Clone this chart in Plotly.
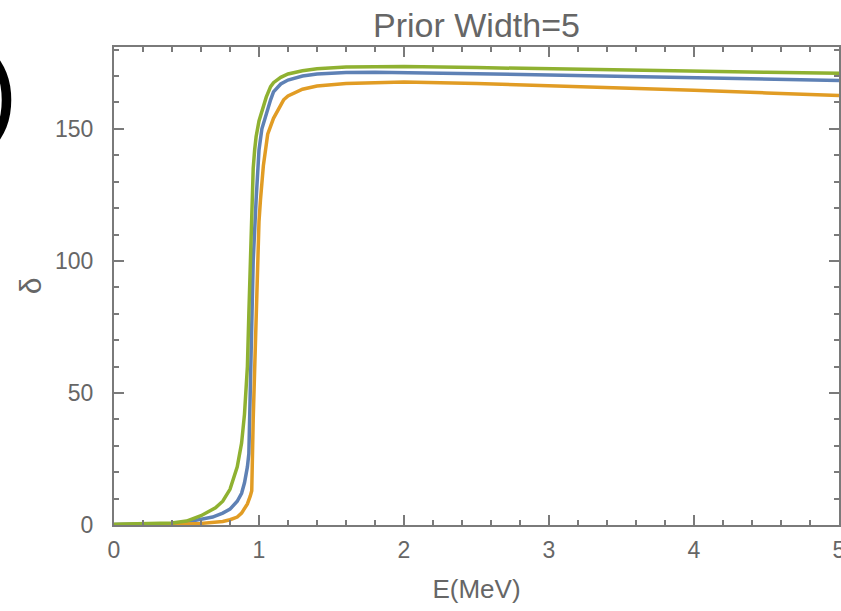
import plotly.graph_objects as go

# ---- data ----
E_green = [0, 0.2, 0.4, 0.5, 0.6, 0.65, 0.7, 0.75, 0.8, 0.85, 0.88, 0.9, 0.92, 0.93, 0.94, 0.95, 0.96,
           0.97, 0.98, 1.0, 1.02, 1.05, 1.08, 1.1, 1.15, 1.2, 1.3, 1.4, 1.6, 1.8, 2.0, 2.5, 3.0, 3.5,
           4.0, 4.5, 5.0]
d_green = [0.3, 0.4, 0.8, 1.5, 3.5, 5, 6.5, 9, 13.5, 22, 31, 42, 60, 80, 100, 123, 135,
           142, 147, 153, 157, 162, 166, 167.5, 169.5, 170.8, 172, 172.8, 173.4, 173.6, 173.6, 173.2,
           172.7, 172.2, 171.8, 171.4, 171.1]

E_blue = [0, 0.2, 0.4, 0.5, 0.6, 0.68, 0.75, 0.8, 0.85, 0.88, 0.9, 0.92, 0.93, 0.94, 0.95, 0.96,
          0.98, 1.0, 1.02, 1.05, 1.08, 1.1, 1.15, 1.2, 1.3, 1.4, 1.6, 1.8, 2.0, 2.5, 3.0, 3.5, 4.0,
          4.5, 5.0]
d_blue = [0.2, 0.3, 0.6, 1.1, 2, 3, 4.5, 6, 9, 12, 16, 22, 27, 55, 80, 100,
          123, 142, 150, 156, 161, 164, 167, 168.5, 170, 170.8, 171.3, 171.4, 171.3, 170.9, 170.4,
          169.9, 169.3, 168.8, 168.3]

E_orange = [0, 0.2, 0.4, 0.5, 0.6, 0.7, 0.75, 0.8, 0.85, 0.88, 0.9, 0.92, 0.94, 0.95, 0.96, 0.97,
            0.98, 1.0, 1.01, 1.03, 1.06, 1.1, 1.17, 1.2, 1.3, 1.4, 1.6, 1.8, 2.0, 2.5, 3.0, 3.5,
            4.0, 4.5, 5.0]
d_orange = [0.1, 0.1, 0.2, 0.4, 0.6, 0.9, 1.3, 2, 3, 4.5, 6, 8, 11, 13, 40, 59,
            85, 115, 123, 136, 148, 154, 161, 162.5, 165, 166.2, 167.2, 167.6, 167.7, 167.2, 166.4,
            165.6, 164.6, 163.6, 162.6]

x_ticks = [0, 1, 2, 3, 4, 5]
y_ticks = [0, 50, 100, 150]

BLUE = "#5E81B5"
ORANGE = "#E19C24"
GREEN = "#8FB131"
AXIS = "#7a7a7a"
TXT = "#666666"
FONT = "Liberation Sans, Arial, sans-serif"

fig = go.Figure()
for E, d, c in [(E_blue, d_blue, BLUE), (E_orange, d_orange, ORANGE), (E_green, d_green, GREEN)]:
    fig.add_trace(go.Scatter(x=E, y=d, mode="lines", line=dict(color=c, width=3.5),
                             showlegend=False, hoverinfo="skip"))

axis_common = dict(
    showgrid=False, zeroline=False, showline=True, linecolor=AXIS, linewidth=2,
    mirror="allticks", ticks="inside", ticklen=10, tickwidth=1.5, tickcolor=AXIS,
    tickfont=dict(family=FONT, size=23, color=TXT), ticklabeloverflow="allow",
    automargin=False,
)

fig.update_layout(
    width=841, height=611,
    margin=dict(l=114, r=2, t=47, b=86),
    paper_bgcolor="white", plot_bgcolor="white",
    title=dict(text="Prior Width=5", x=(114 + 839) / 2 / 841, xanchor="center",
               y=1 - 25 / 611, yanchor="middle", yref="container",
               font=dict(family=FONT, size=34, color=TXT)),
    xaxis=dict(range=[0, 5], tickvals=x_ticks, ticklabelstandoff=3,
               minor=dict(dtick=0.2, ticks="inside", ticklen=5, tickcolor=AXIS, tickwidth=1.5),
               title=dict(text="E(MeV)", font=dict(family=FONT, size=26, color=TXT), standoff=18),
               **axis_common),
    yaxis=dict(range=[0, 181], tickvals=y_ticks, ticklabelstandoff=14,
               minor=dict(dtick=10, ticks="inside", ticklen=5, tickcolor=AXIS, tickwidth=1.5),
               title=dict(text="δ", font=dict(family=FONT, size=30, color=TXT), standoff=5),
               **axis_common),
)

# partially cut-off panel label at top-left
fig.add_annotation(text=")", xref="paper", yref="paper",
                   x=(20 - 114) / 725, y=1 - (90 - 47) / 478, xanchor="right", yanchor="middle",
                   showarrow=False, font=dict(family=FONT, size=108, color="black"))

fig.write_html("out.html")
